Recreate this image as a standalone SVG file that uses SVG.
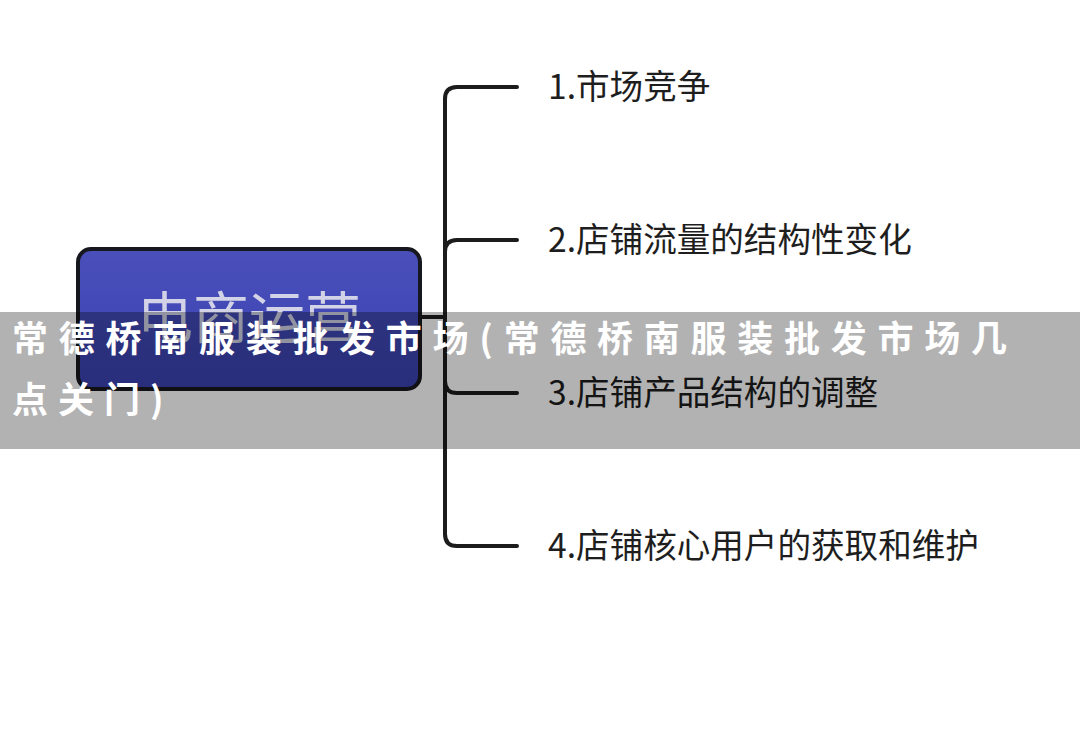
<svg xmlns="http://www.w3.org/2000/svg" width="1080" height="731" viewBox="0 0 1080 731">
<style>
.conn{fill:none;stroke:#1c1c1c;stroke-width:4;stroke-linecap:round;stroke-linejoin:round}
.lbl{font-family:"Noto Sans CJK SC","Noto Sans",sans-serif;font-size:33.6px;fill:#1e1e1e}
.root{font-family:"Noto Sans CJK SC","Noto Sans",sans-serif;font-size:56px;fill:#d2d3e6}
.wm{font-family:"Noto Sans CJK SC","Noto Sans",sans-serif;font-size:36px;font-weight:bold;fill:#ffffff}
</style>
<defs>
<linearGradient id="rootFill" x1="0" y1="0" x2="0" y2="1">
<stop offset="0" stop-color="#4a4fba"/>
<stop offset="1" stop-color="#3a43b2"/>
</linearGradient>
</defs>
<rect x="0" y="0" width="1080" height="731" fill="#ffffff"/>
<g id="connectors">
<path class="conn" d="M422 317 H445"/>
<path class="conn" d="M517 87 H457 Q445 87 445 99 V534 Q445 546 457 546 H517"/>
<path class="conn" d="M445 252 Q445 240 457 240 H517"/>
<path class="conn" d="M445 381 Q445 393 457 393 H517"/>
</g>
<g id="node-root">
<rect x="78" y="249" width="342" height="140" rx="13" ry="13" fill="url(#rootFill)" stroke="#17171f" stroke-width="4"/>
<text class="root" x="249" y="338" text-anchor="middle">电商运营</text>
</g>
<g id="node-1"><text class="lbl" x="548" y="99">1.市场竞争</text></g>
<g id="node-2"><text class="lbl" x="548" y="252">2.店铺流量的结构性变化</text></g>
<g id="node-3"><text class="lbl" x="548" y="405">3.店铺产品结构的调整</text></g>
<g id="node-4"><text class="lbl" x="548" y="558">4.店铺核心用户的获取和维护</text></g>
<rect x="0" y="312" width="1080" height="137" fill="#000000" fill-opacity="0.3"/>
<text class="wm" x="12" y="352" textLength="995" lengthAdjust="spacing">常德桥南服装批发市场(常德桥南服装批发市场几</text>
<text class="wm" x="12" y="413" letter-spacing="10">点关门)</text>
</svg>
